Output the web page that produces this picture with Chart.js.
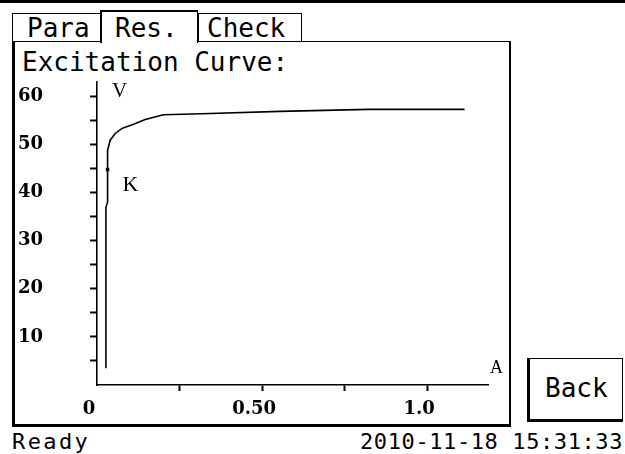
<!DOCTYPE html>
<html><head><meta charset="utf-8">
<script src="https://cdn.jsdelivr.net/npm/chart.js@4/dist/chart.umd.min.js"></script>
<style>
html,body{margin:0;padding:0;background:#fff;}
body{width:625px;height:454px;position:relative;overflow:hidden;font-family:"DejaVu Sans Mono",monospace;color:#000;}
.b{position:absolute;box-sizing:border-box;border:0 solid #000;}
.t{position:absolute;font-size:26px;line-height:26px;white-space:pre;}
.s{position:absolute;font-size:22px;line-height:22px;white-space:pre;}
#wrap{position:absolute;left:15px;top:78px;width:495px;height:345px;}
</style></head><body>
<div class="b" style="left:0;top:0;width:625px;height:3px;background:#000"></div>
<div class="b" style="left:12px;top:41px;width:499px;height:386px;border-left-width:3px;border-top-width:1px;border-right-width:2px;border-bottom-width:3px;"></div>
<div class="b" style="left:12px;top:13px;width:89px;height:29px;border-width:1px;"></div>
<div class="b" style="left:198px;top:13px;width:104px;height:29px;border-width:1px;"></div>
<div class="b" style="left:100px;top:10px;width:98px;height:33px;background:#fff;border-top-width:2px;border-left-width:2px;border-right-width:1px;"></div>
<div class="t" style="left:27px;top:15px">Para</div>
<div class="t" style="left:115px;top:15px">Res.</div>
<div class="t" style="left:207px;top:15px">Check</div>
<div class="t" style="left:22px;top:49px">Excitation Curve:</div>
<div class="b" style="left:527px;top:358px;width:96px;height:64px;border-left-width:3px;border-bottom-width:3px;border-top-width:1px;border-right-width:1px;"></div>
<div class="t" style="left:545px;top:375px">Back</div>
<div class="s" style="left:12px;top:431px;letter-spacing:2.4px">Ready</div>
<div class="s" style="left:360px;top:431px;letter-spacing:0.6px">2010-11-18 15:31:33</div>
<div id="wrap"><canvas id="c" width="495" height="345"></canvas></div>
<script>
// Data
const current = [0.027, 0.027, 0.032, 0.032, 0.032, 0.040, 0.055, 0.077, 0.111, 0.146, 0.201, 0.317, 0.554, 0.821, 1.113];
const voltage = [3.5, 37.0, 38.0, 44.8, 48.8, 50.9, 52.3, 53.4, 54.2, 55.2, 56.2, 56.4, 56.9, 57.3, 57.3];
const kneeCurrent = [0.032];
const kneeVoltage = [44.8];
const kneeLabel = 'K';
const xAxisLetter = 'A';
const yAxisLetter = 'V';
const xTicks = [0, 0.25, 0.5, 0.75, 1.0];
const xTickLabels = ['0', '', '0.50', '', '1.0'];
const yTicks = [5, 10, 15, 20, 25, 30, 35, 40, 45, 50, 55, 60];
const yTickLabels = ['', '10', '', '20', '', '30', '', '40', '', '50', '', '60'];

const tickFont = {family: '"DejaVu Serif"', weight: 'bold', size: 18};

const letters = {
  id: 'letters',
  afterDraw(chart) {
    const {ctx, chartArea, scales} = chart;
    ctx.save();
    ctx.fillStyle = '#000';
    ctx.textBaseline = 'alphabetic';
    ctx.textAlign = 'left';
    ctx.font = '21px "Liberation Serif"';
    ctx.fillText(yAxisLetter, chartArea.left + 15, chartArea.top + 15);
    const kx = scales.x.getPixelForValue(kneeCurrent[0]);
    const ky = scales.y.getPixelForValue(kneeVoltage[0]);
    ctx.font = '22px "Liberation Serif"';
    ctx.fillText(kneeLabel, kx + 15, ky + 21);
    ctx.font = '18px "Liberation Serif"';
    ctx.fillText(xAxisLetter, chartArea.right + 2, chartArea.bottom - 12);
    ctx.restore();
  }
};

new Chart(document.getElementById('c'), {
  type: 'line',
  data: {
    datasets: [
      {
        data: current.map((c, i) => ({x: c, y: voltage[i]})),
        borderColor: '#000', borderWidth: 1.6, pointRadius: 0, tension: 0, fill: false
      },
      {
        data: kneeCurrent.map((c, i) => ({x: c, y: kneeVoltage[i]})),
        showLine: false, pointStyle: 'rect', pointRadius: 2.5,
        backgroundColor: '#000', borderColor: '#000', borderWidth: 0
      }
    ]
  },
  plugins: [letters],
  options: {
    responsive: false,
    animation: false,
    devicePixelRatio: 1,
    layout: {padding: {left: 3, top: 4, right: 22, bottom: 0}},
    plugins: {legend: {display: false}, tooltip: {enabled: false}, title: {display: false}},
    scales: {
      x: {
        type: 'linear', min: 0, max: 1.184,
        afterBuildTicks: s => { s.ticks = xTicks.map(v => ({value: v})); },
        afterFit: s => { s.height = 38; s.paddingLeft = 0; s.paddingRight = 0; },
        border: {display: true, color: '#000', width: 1.6},
        grid: {
          drawOnChartArea: false, drawTicks: true, tickLength: 6, tickWidth: 2,
          tickColor: c => (c.tick && c.tick.value === 0) ? 'rgba(0,0,0,0)' : '#000'
        },
        ticks: {
          autoSkip: false, maxRotation: 0, minRotation: 0, padding: 8, labelOffset: -8,
          color: '#000', font: tickFont,
          callback: (v, i) => xTickLabels[i]
        }
      },
      y: {
        type: 'linear', min: 0, max: 63,
        afterBuildTicks: s => { s.ticks = yTicks.map(v => ({value: v})); },
        afterFit: s => { s.width = 79; s.paddingTop = 0; s.paddingBottom = 0; },
        border: {display: true, color: '#000', width: 1.6},
        grid: {drawOnChartArea: false, drawTicks: true, tickLength: 7, tickWidth: 2, tickColor: '#000'},
        ticks: {
          autoSkip: false, crossAlign: 'far', padding: 0,
          color: '#000', font: tickFont,
          callback: (v, i) => yTickLabels[i]
        }
      }
    }
  }
});
</script>
</body></html>
